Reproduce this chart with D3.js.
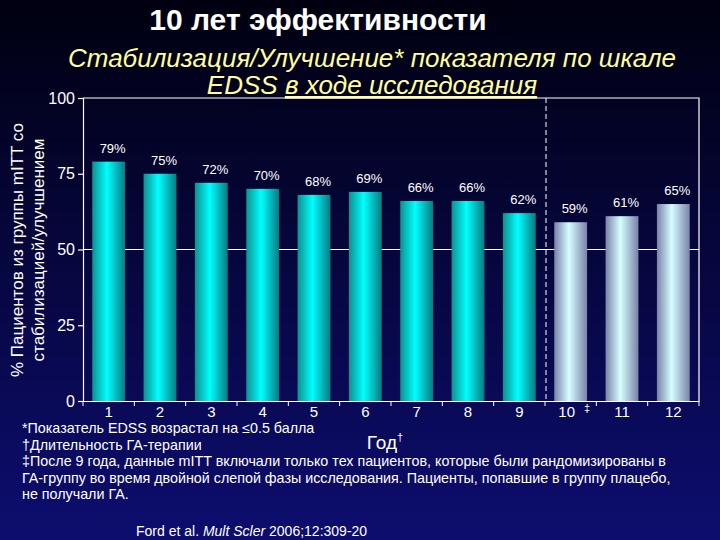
<!DOCTYPE html>
<html><head><meta charset="utf-8">
<script src="https://cdn.jsdelivr.net/npm/d3@7"></script>
<style>body{margin:0;background:#000}</style></head>
<body><script>
const years = ["1","2","3","4","5","6","7","8","9","10","11","12"];
const values = [79,75,72,70,68,69,66,66,62,59,61,65];
const labels = ["79%","75%","72%","70%","68%","69%","66%","66%","62%","59%","61%","65%"];
const yTicks = [0,25,50,75,100];

const W=720,H=540;
const svg=d3.select("body").append("svg").attr("width",W).attr("height",H);
const defs=svg.append("defs");
const bg=defs.append("linearGradient").attr("id","bg").attr("x1",0).attr("x2",0).attr("y1",0).attr("y2",1);
bg.append("stop").attr("offset","0%").attr("stop-color","#000010");
bg.append("stop").attr("offset","100%").attr("stop-color","#0d0d70");
const gc=defs.append("linearGradient").attr("id","gc");
gc.append("stop").attr("offset","0%").attr("stop-color","#0f8f8f");
gc.append("stop").attr("offset","45%").attr("stop-color","#00ffff");
gc.append("stop").attr("offset","100%").attr("stop-color","#0a7a80");
const gs=defs.append("linearGradient").attr("id","gs");
gs.append("stop").attr("offset","0%").attr("stop-color","#7a82a8");
gs.append("stop").attr("offset","45%").attr("stop-color","#d4ffff");
gs.append("stop").attr("offset","100%").attr("stop-color","#7a82a8");
svg.append("rect").attr("width",W).attr("height",H).attr("fill","url(#bg)");

svg.append("text").attr("x",318).attr("y",30).attr("text-anchor","middle").attr("fill","#fff")
 .attr("font-family","Liberation Sans, Arial").attr("font-weight","bold").attr("font-size",30).text("10 лет эффективности");
const sub=svg.append("g").attr("font-family","Liberation Sans, Arial").attr("font-style","italic").attr("font-size",26).attr("fill","#ffff99").attr("text-anchor","middle");
sub.append("text").attr("x",372).attr("y",67).text("Стабилизация/Улучшение* показателя по шкале");
const t2=sub.append("text").attr("x",372).attr("y",94);
t2.append("tspan").text("EDSS ");
t2.append("tspan").attr("text-decoration","underline").text("в ходе исследования");

const x=d3.scaleBand().domain(years).range([83,699]).paddingInner(0.36).paddingOuter(0.18);
const y=d3.scaleLinear().domain([0,100]).range([401,98]);

svg.append("line").attr("x1",83).attr("x2",699).attr("y1",y(50)).attr("y2",y(50)).attr("stroke","#fff").attr("stroke-width",1.2);
svg.append("path").attr("d",`M83,${y(100)}H699V${y(0)}`).attr("fill","none").attr("stroke","#fff").attr("stroke-width",1.2);
svg.append("line").attr("x1",546).attr("x2",546).attr("y1",y(100)).attr("y2",y(0)).attr("stroke","#fff").attr("stroke-dasharray","5,3");

svg.selectAll(".bar").data(values).enter().append("rect")
 .attr("x",(d,i)=>x(years[i])).attr("width",x.bandwidth())
 .attr("y",d=>y(d)).attr("height",d=>y(0)-y(d))
 .attr("fill",(d,i)=>i<9?"url(#gc)":"url(#gs)");
svg.selectAll(".lbl").data(labels).enter().append("text")
 .attr("x",(d,i)=>x(years[i])+x.bandwidth()/2+4).attr("y",(d,i)=>y(values[i])-9)
 .attr("text-anchor","middle").attr("fill","#fff").attr("font-family","Liberation Sans, Arial").attr("font-size",13).text(d=>d);

const ya=svg.append("g").attr("transform","translate(83,0)").call(d3.axisLeft(y).tickValues(yTicks).tickSize(5).tickPadding(3));
const xa=svg.append("g").attr("transform",`translate(0,${y(0)})`).call(d3.axisBottom(x).tickSize(0).tickPadding(5));
[ya,xa].forEach(a=>{a.selectAll("path,line").attr("stroke","#fff").attr("stroke-width",1.2);
 a.selectAll("text").attr("fill","#fff").attr("font-family","Liberation Sans, Arial").attr("font-size",15);});
ya.selectAll("text").attr("font-size",16);
const bounds=d3.range(13).map(i=>83+i*(616/12));
svg.selectAll(".xt").data(bounds).enter().append("line").attr("x1",d=>d).attr("x2",d=>d).attr("y1",y(0)).attr("y2",y(0)+5).attr("stroke","#fff");
xa.selectAll("text").attr("dx",(d,i)=>i===9?"-4":"0");
svg.append("text").attr("x",584).attr("y",412).attr("fill","#fff").attr("font-family","Liberation Sans, Arial").attr("font-size",11).text("‡");

const yl=svg.append("text").attr("transform","translate(0,250) rotate(-90)").attr("text-anchor","middle").attr("fill","#fff").attr("font-family","Liberation Sans, Arial").attr("font-size",17);
yl.append("tspan").attr("x",0).attr("y",23).text("% Пациентов из группы mITT со");
yl.append("tspan").attr("x",0).attr("y",44).text("стабилизацией/улучшением");

const xl=svg.append("text").attr("x",385).attr("y",449).attr("fill","#fff").attr("text-anchor","middle").attr("font-family","Liberation Sans, Arial").attr("font-size",19);
xl.append("tspan").text("Год");xl.append("tspan").attr("font-size",11).attr("dy",-8).text("†");

const fn=["*Показатель EDSS возрастал на ≤0.5 балла","†Длительность ГА-терапии","‡После 9 года,  данные mITT включали только тех пациентов, которые были рандомизированы в","ГА-группу во время двойной слепой фазы исследования. Пациенты, попавшие в группу плацебо,","не получали ГА."];
svg.selectAll(".fn").data(fn).enter().append("text").attr("x",22).attr("y",(d,i)=>433+i*16.5)
 .attr("fill","#fff").attr("font-family","Liberation Sans, Arial").attr("font-size",14.3).text(d=>d);
const ref=svg.append("text").attr("x",136).attr("y",536).attr("fill","#fff").attr("font-family","Liberation Sans, Arial").attr("font-size",14);
ref.append("tspan").text("Ford et al. ");ref.append("tspan").attr("font-style","italic").text("Mult Scler");ref.append("tspan").text(" 2006;12:309-20");
</script></body></html>
